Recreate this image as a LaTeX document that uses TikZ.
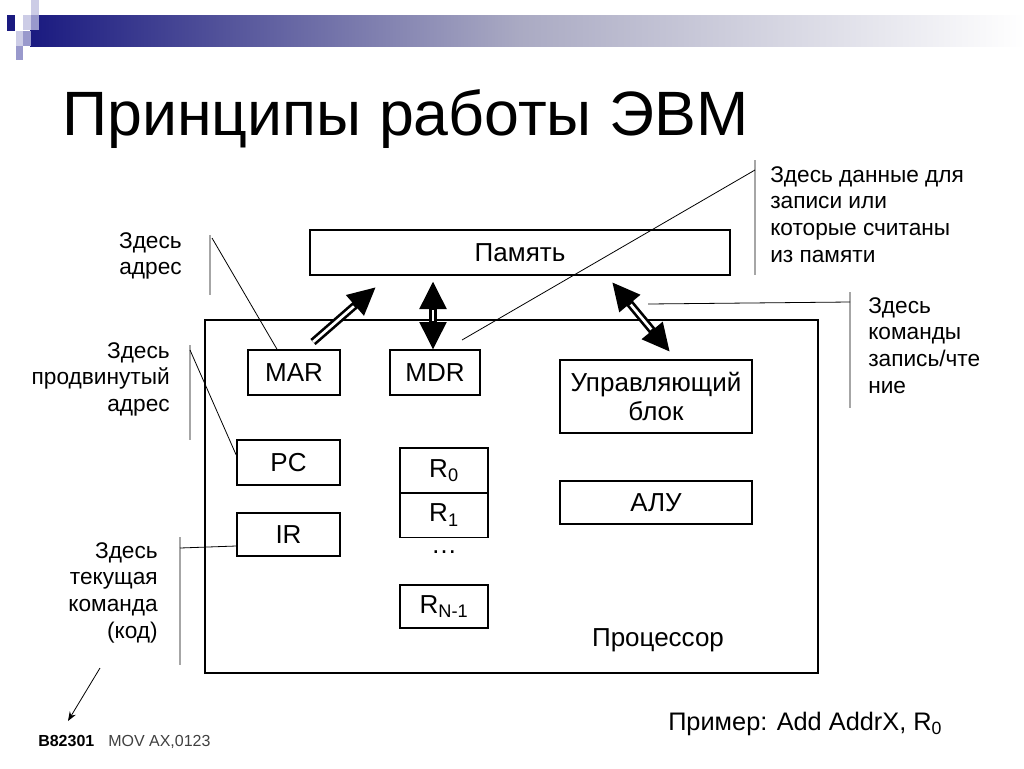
\documentclass[tikz,border=0pt]{standalone}
\usepackage{fontspec}
\setmainfont{Liberation Sans}
\usetikzlibrary{arrows.meta}
\definecolor{navy}{RGB}{26,26,128}
\definecolor{midg}{RGB}{170,170,195}
\definecolor{lav}{RGB}{204,204,230}
\definecolor{mlav}{RGB}{153,153,204}
\tikzset{fh/.tip={Triangle[length=21pt,width=19pt]}}
\begin{document}
\begin{tikzpicture}[x=0.75pt,y=-0.75pt,
  box/.style={draw,line width=1.2pt,minimum height=33.75pt,align=center,font=\fontsize{19.5}{22}\selectfont,inner sep=0pt},
  lbl/.style={font=\fontsize{17}{20}\selectfont,inner sep=0pt},
  brk/.style={draw=gray!70,line width=1.5pt},
  lead/.style={draw,line width=0.6pt},
  fat/.style={line width=6pt},
  fatw/.style={white,line width=2pt}]
\useasboundingbox (0,0) rectangle (1024,768);
% decoration
\shade[left color=navy,right color=midg] (30,15) rectangle (520,46);
\shade[left color=midg,right color=white] (520,15) rectangle (1024,46);
\fill[navy] (7,15) rectangle (15,31);
\fill[lav] (23,15) rectangle (31,30);
\fill[lav] (31,0) rectangle (39,15);
\fill[mlav] (31,15) rectangle (39,30);
\fill[lav] (16,31) rectangle (23,46);
\fill[mlav] (23,31) rectangle (31,46);
\fill[mlav] (16,46) rectangle (23,60);
\node[anchor=base west,inner sep=0pt,font=\fontsize{47}{52}\selectfont] (title) at (62,135) {Принципы работы ЭВМ};
% boxes
\node[draw,line width=2.2pt,minimum width=315pt,minimum height=33.75pt,inner sep=0pt,font=\fontsize{19.5}{22}\selectfont] (mem) at (520,252.5) {Память};
\node[draw,line width=0.8pt,minimum width=459.75pt,minimum height=264.75pt] (cpu) at (511.5,496.5) {};
\node[lbl,font=\fontsize{19.5}{22}\selectfont] (cpul) at (658,640) {Процессор};
\node[box,minimum width=69pt] (mar) at (294,372.5) {MAR};
\node[box,minimum width=67.5pt] (mdr) at (435,372.5) {MDR};
\node[box,minimum width=144pt,minimum height=54.75pt] (cu) at (656,396.5) {Управляющий\\блок};
\node[box,minimum width=77.25pt] (pc) at (288.5,462.5) {PC};
\node[box,minimum width=77.25pt,minimum height=32.25pt] (ir) at (288.5,534.5) {IR};
\node[box,minimum width=66pt] (r0) at (444,470.5) {R\textsubscript{0}};
\node[box,minimum width=66pt] (r1) at (444,515) {R\textsubscript{1}};
\node[lbl,font=\fontsize{19.5}{22}\selectfont] (dots) at (444,552) {…};
\node[box,minimum width=66pt,minimum height=32.25pt] (rn) at (444,606.5) {R\textsubscript{N-1}};
\node[box,minimum width=144pt,minimum height=32.25pt] (alu) at (656,502.5) {АЛУ};
% fat arrows
\coordinate (a1s) at (313,342); \coordinate (a1e) at (376,287);
\coordinate (a2s) at (433,350); \coordinate (a2e) at (433,281);
\coordinate (a3s) at (612,282); \coordinate (a3e) at (670,352);
\draw[fat,-fh] (a1s) -- (a1e);
\draw[fatw,shorten >=22pt] (a1s) -- (a1e);
\draw[fat,fh-fh] (a2s) -- (a2e);
\draw[fatw,shorten >=22pt,shorten <=22pt] (a2s) -- (a2e);
\draw[fat,fh-fh] (a3s) -- (a3e);
\draw[fatw,shorten >=22pt,shorten <=22pt] (a3s) -- (a3e);
% left labels
\node[lbl,align=right,anchor=north east] (l1) at (182,232) {Здесь\\адрес};
\draw[brk] (210,235) -- (210,295);
\draw[lead] (212,238) -- (mar.north west -| 277,0);
\node[lbl,align=right,anchor=north east] (l2) at (170,342) {Здесь\\продвинутый\\адрес};
\draw[brk] (190,345) -- (190,440);
\draw[lead] (190,350) -- (pc.west |- 0,455);
\node[lbl,align=right,anchor=north east] (l3) at (158,542) {Здесь\\текущая\\команда\\(код)};
\draw[brk] (180,537) -- (180,665);
\coordinate (irl) at (180,548);
\draw[lead] (irl) -- (ir.west|-0,546);
\coordinate (k1) at (100,668); \coordinate (k2) at (68,721);
\draw[lead,-{Stealth[length=7pt]}] (k1) -- (k2);
\node[anchor=base west,inner sep=0pt,font=\fontsize{12}{14}\selectfont\bfseries] (code) at (38,746) {B82301};
\node[anchor=base west,inner sep=0pt,font=\fontsize{12}{14}\selectfont,text=black!75] (mov) at (108,746) {MOV AX,0123};
% right labels
\node[lbl,align=left,anchor=north west] (r1l) at (770,166) {Здесь данные для\\записи или\\которые считаны\\из памяти};
\draw[brk] (755,160) -- (755,275);
\coordinate (rd) at (755,170); \coordinate (rdm) at (462,340);
\draw[lead] (rd) -- (rdm);
\node[lbl,align=left,anchor=north west] (r2l) at (868,297) {Здесь\\команды\\запись/чте\\ние};
\draw[brk] (850,292) -- (850,408);
\coordinate (rc) at (850,302); \coordinate (rce) at (648,304);
\draw[lead] (rc) -- (rce);
\node[anchor=base west,inner sep=0pt,font=\fontsize{19}{22}\selectfont] (ex) at (668,730) {Пример: Add AddrX, R\textsubscript{0}};
\end{tikzpicture}
\end{document}
